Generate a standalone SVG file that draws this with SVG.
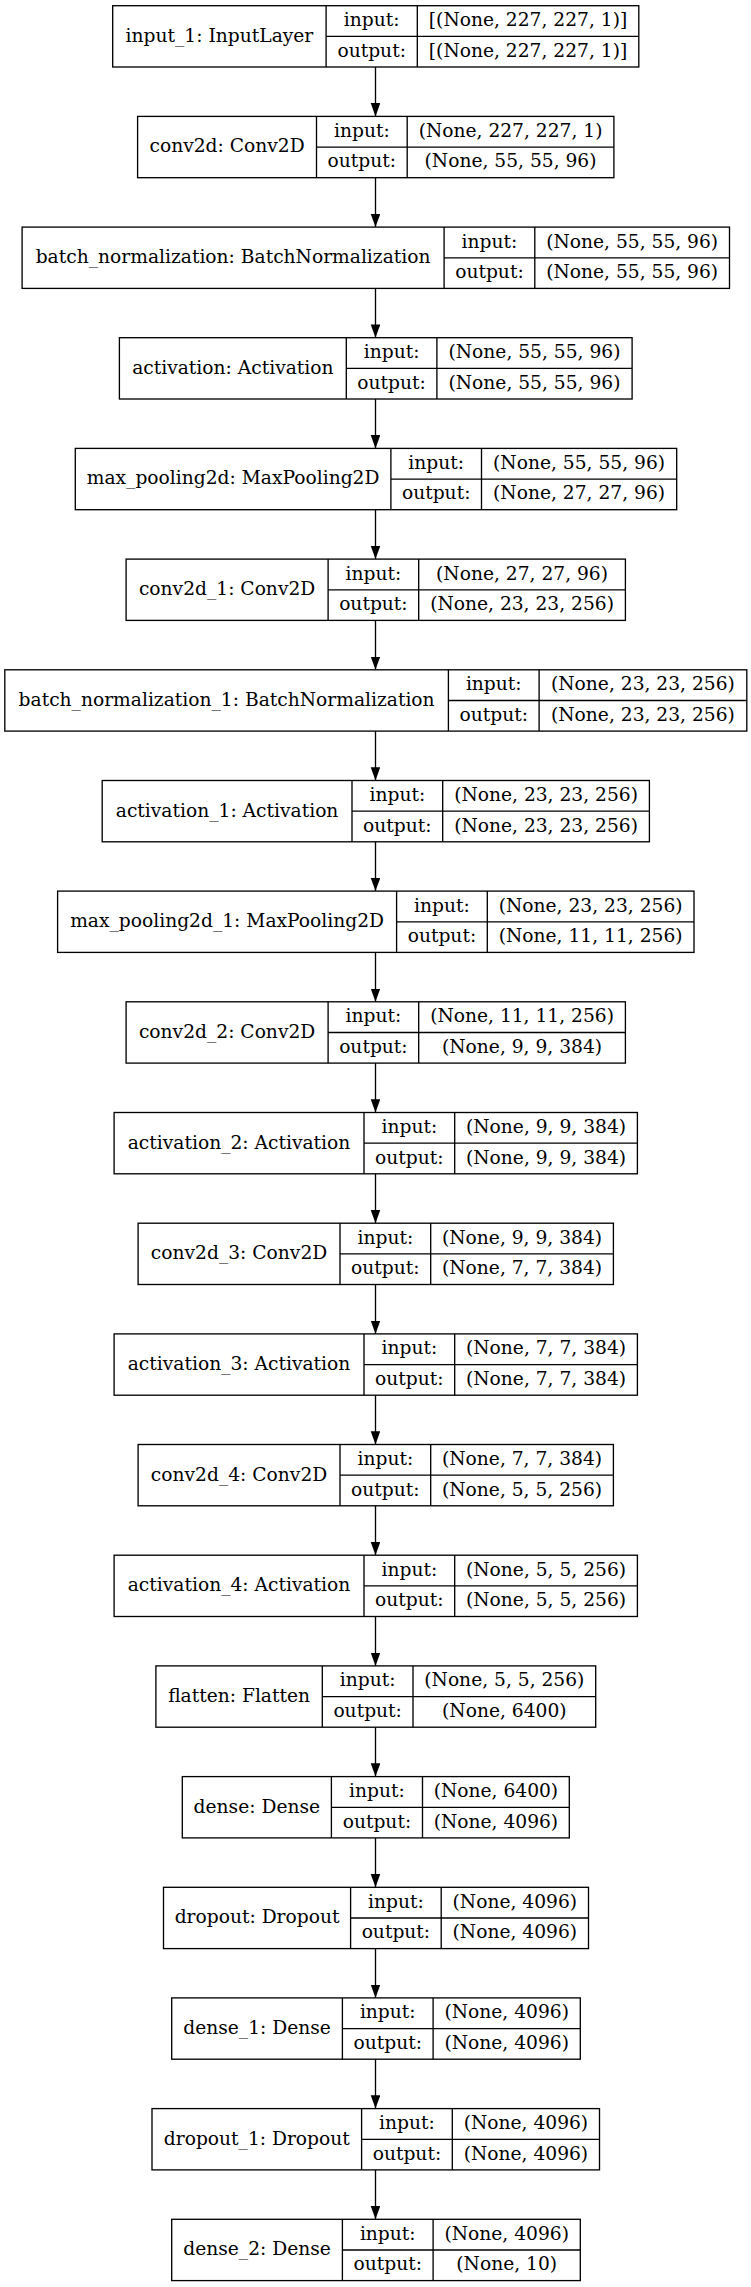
<svg xmlns="http://www.w3.org/2000/svg" width="751" height="2287" viewBox="0 0 751 2287">
<style>
.box{fill:#fff;stroke:#000;stroke-width:1.33}
.sep{fill:none;stroke:#000;stroke-width:1.33}
text{font-family:"DejaVu Serif","Liberation Serif",serif;font-size:18.67px;fill:#000;text-anchor:middle}
.edge{stroke:#000;stroke-width:1.33;fill:none;marker-end:url(#ah)}
</style>
<defs>
<marker id="ah" markerUnits="userSpaceOnUse" markerWidth="14" markerHeight="10" refX="13.3" refY="4.8" orient="auto">
<path d="M0,0 L13.3,4.8 L0,9.6 z" fill="#000"/>
</marker>
</defs>
<rect width="751" height="2287" fill="#fff"/>
<g id="connectors">
<line class="edge" x1="375.5" y1="67.0" x2="375.5" y2="116.4"/>
<line class="edge" x1="375.5" y1="177.7" x2="375.5" y2="227.1"/>
<line class="edge" x1="375.5" y1="288.4" x2="375.5" y2="337.7"/>
<line class="edge" x1="375.5" y1="399.0" x2="375.5" y2="448.4"/>
<line class="edge" x1="375.5" y1="509.7" x2="375.5" y2="559.1"/>
<line class="edge" x1="375.5" y1="620.4" x2="375.5" y2="669.8"/>
<line class="edge" x1="375.5" y1="731.1" x2="375.5" y2="780.5"/>
<line class="edge" x1="375.5" y1="841.8" x2="375.5" y2="891.1"/>
<line class="edge" x1="375.5" y1="952.4" x2="375.5" y2="1001.8"/>
<line class="edge" x1="375.5" y1="1063.1" x2="375.5" y2="1112.5"/>
<line class="edge" x1="375.5" y1="1173.8" x2="375.5" y2="1223.2"/>
<line class="edge" x1="375.5" y1="1284.5" x2="375.5" y2="1333.9"/>
<line class="edge" x1="375.5" y1="1395.2" x2="375.5" y2="1444.5"/>
<line class="edge" x1="375.5" y1="1505.8" x2="375.5" y2="1555.2"/>
<line class="edge" x1="375.5" y1="1616.5" x2="375.5" y2="1665.9"/>
<line class="edge" x1="375.5" y1="1727.2" x2="375.5" y2="1776.6"/>
<line class="edge" x1="375.5" y1="1837.9" x2="375.5" y2="1887.3"/>
<line class="edge" x1="375.5" y1="1948.6" x2="375.5" y2="1997.9"/>
<line class="edge" x1="375.5" y1="2059.2" x2="375.5" y2="2108.6"/>
<line class="edge" x1="375.5" y1="2169.9" x2="375.5" y2="2219.3"/>
</g>
<g id="input_1" transform="translate(0,5.7)">
<rect class="box" x="112.7" y="0" width="526.1" height="61.3"/>
<path class="sep" d="M326.1,0V61.3M417.3,0V61.3M326.1,30.7H638.8"/>
<text x="219.4" y="36">input_1: InputLayer</text>
<text x="371.7" y="20.5">input:</text><text x="371.7" y="51">output:</text>
<text x="528.05" y="20.5">[(None, 227, 227, 1)]</text><text x="528.05" y="51">[(None, 227, 227, 1)]</text>
</g>
<g id="conv2d" transform="translate(0,116.4)">
<rect class="box" x="137.6" y="0" width="476.3" height="61.3"/>
<path class="sep" d="M316.5,0V61.3M407.2,0V61.3M316.5,30.7H613.9"/>
<text x="227.05" y="36">conv2d: Conv2D</text>
<text x="361.85" y="20.5">input:</text><text x="361.85" y="51">output:</text>
<text x="510.55" y="20.5">(None, 227, 227, 1)</text><text x="510.55" y="51">(None, 55, 55, 96)</text>
</g>
<g id="batch_normalization" transform="translate(0,227.1)">
<rect class="box" x="22.1" y="0" width="707.4" height="61.3"/>
<path class="sep" d="M444.1,0V61.3M534.8,0V61.3M444.1,30.7H729.5"/>
<text x="233.1" y="36">batch_normalization: BatchNormalization</text>
<text x="489.45" y="20.5">input:</text><text x="489.45" y="51">output:</text>
<text x="632.15" y="20.5">(None, 55, 55, 96)</text><text x="632.15" y="51">(None, 55, 55, 96)</text>
</g>
<g id="activation" transform="translate(0,337.7)">
<rect class="box" x="119.4" y="0" width="512.7" height="61.3"/>
<path class="sep" d="M346.3,0V61.3M436.9,0V61.3M346.3,30.7H632.1"/>
<text x="232.85" y="36">activation: Activation</text>
<text x="391.6" y="20.5">input:</text><text x="391.6" y="51">output:</text>
<text x="534.5" y="20.5">(None, 55, 55, 96)</text><text x="534.5" y="51">(None, 55, 55, 96)</text>
</g>
<g id="max_pooling2d" transform="translate(0,448.4)">
<rect class="box" x="75.3" y="0" width="601.4" height="61.3"/>
<path class="sep" d="M390.9,0V61.3M481.5,0V61.3M390.9,30.7H676.7"/>
<text x="233.1" y="36">max_pooling2d: MaxPooling2D</text>
<text x="436.2" y="20.5">input:</text><text x="436.2" y="51">output:</text>
<text x="579.1" y="20.5">(None, 55, 55, 96)</text><text x="579.1" y="51">(None, 27, 27, 96)</text>
</g>
<g id="conv2d_1" transform="translate(0,559.1)">
<rect class="box" x="126.1" y="0" width="499.3" height="61.3"/>
<path class="sep" d="M328.1,0V61.3M418.7,0V61.3M328.1,30.7H625.4"/>
<text x="227.1" y="36">conv2d_1: Conv2D</text>
<text x="373.4" y="20.5">input:</text><text x="373.4" y="51">output:</text>
<text x="522.05" y="20.5">(None, 27, 27, 96)</text><text x="522.05" y="51">(None, 23, 23, 256)</text>
</g>
<g id="batch_normalization_1" transform="translate(0,669.8)">
<rect class="box" x="4.8" y="0" width="742" height="61.3"/>
<path class="sep" d="M448.4,0V61.3M539.1,0V61.3M448.4,30.7H746.8"/>
<text x="226.6" y="36">batch_normalization_1: BatchNormalization</text>
<text x="493.75" y="20.5">input:</text><text x="493.75" y="51">output:</text>
<text x="642.95" y="20.5">(None, 23, 23, 256)</text><text x="642.95" y="51">(None, 23, 23, 256)</text>
</g>
<g id="activation_1" transform="translate(0,780.5)">
<rect class="box" x="102.2" y="0" width="547.2" height="61.3"/>
<path class="sep" d="M352,0V61.3M442.7,0V61.3M352,30.7H649.4"/>
<text x="227.1" y="36">activation_1: Activation</text>
<text x="397.35" y="20.5">input:</text><text x="397.35" y="51">output:</text>
<text x="546.05" y="20.5">(None, 23, 23, 256)</text><text x="546.05" y="51">(None, 23, 23, 256)</text>
</g>
<g id="max_pooling2d_1" transform="translate(0,891.1)">
<rect class="box" x="57.6" y="0" width="636.4" height="61.3"/>
<path class="sep" d="M396.6,0V61.3M487.3,0V61.3M396.6,30.7H694"/>
<text x="227.1" y="36">max_pooling2d_1: MaxPooling2D</text>
<text x="441.95" y="20.5">input:</text><text x="441.95" y="51">output:</text>
<text x="590.65" y="20.5">(None, 23, 23, 256)</text><text x="590.65" y="51">(None, 11, 11, 256)</text>
</g>
<g id="conv2d_2" transform="translate(0,1001.8)">
<rect class="box" x="126.1" y="0" width="499.3" height="61.3"/>
<path class="sep" d="M328.1,0V61.3M418.7,0V61.3M328.1,30.7H625.4"/>
<text x="227.1" y="36">conv2d_2: Conv2D</text>
<text x="373.4" y="20.5">input:</text><text x="373.4" y="51">output:</text>
<text x="522.05" y="20.5">(None, 11, 11, 256)</text><text x="522.05" y="51">(None, 9, 9, 384)</text>
</g>
<g id="activation_2" transform="translate(0,1112.5)">
<rect class="box" x="114.1" y="0" width="523.3" height="61.3"/>
<path class="sep" d="M364,0V61.3M454.7,0V61.3M364,30.7H637.4"/>
<text x="239.05" y="36">activation_2: Activation</text>
<text x="409.35" y="20.5">input:</text><text x="409.35" y="51">output:</text>
<text x="546.05" y="20.5">(None, 9, 9, 384)</text><text x="546.05" y="51">(None, 9, 9, 384)</text>
</g>
<g id="conv2d_3" transform="translate(0,1223.2)">
<rect class="box" x="138.1" y="0" width="475.3" height="61.3"/>
<path class="sep" d="M340,0V61.3M430.7,0V61.3M340,30.7H613.4"/>
<text x="239.05" y="36">conv2d_3: Conv2D</text>
<text x="385.35" y="20.5">input:</text><text x="385.35" y="51">output:</text>
<text x="522.05" y="20.5">(None, 9, 9, 384)</text><text x="522.05" y="51">(None, 7, 7, 384)</text>
</g>
<g id="activation_3" transform="translate(0,1333.9)">
<rect class="box" x="114.1" y="0" width="523.3" height="61.3"/>
<path class="sep" d="M364,0V61.3M454.7,0V61.3M364,30.7H637.4"/>
<text x="239.05" y="36">activation_3: Activation</text>
<text x="409.35" y="20.5">input:</text><text x="409.35" y="51">output:</text>
<text x="546.05" y="20.5">(None, 7, 7, 384)</text><text x="546.05" y="51">(None, 7, 7, 384)</text>
</g>
<g id="conv2d_4" transform="translate(0,1444.5)">
<rect class="box" x="138.1" y="0" width="475.3" height="61.3"/>
<path class="sep" d="M340,0V61.3M430.7,0V61.3M340,30.7H613.4"/>
<text x="239.05" y="36">conv2d_4: Conv2D</text>
<text x="385.35" y="20.5">input:</text><text x="385.35" y="51">output:</text>
<text x="522.05" y="20.5">(None, 7, 7, 384)</text><text x="522.05" y="51">(None, 5, 5, 256)</text>
</g>
<g id="activation_4" transform="translate(0,1555.2)">
<rect class="box" x="114.1" y="0" width="523.3" height="61.3"/>
<path class="sep" d="M364,0V61.3M454.7,0V61.3M364,30.7H637.4"/>
<text x="239.05" y="36">activation_4: Activation</text>
<text x="409.35" y="20.5">input:</text><text x="409.35" y="51">output:</text>
<text x="546.05" y="20.5">(None, 5, 5, 256)</text><text x="546.05" y="51">(None, 5, 5, 256)</text>
</g>
<g id="flatten" transform="translate(0,1665.9)">
<rect class="box" x="155.9" y="0" width="439.8" height="61.3"/>
<path class="sep" d="M322.3,0V61.3M413,0V61.3M322.3,30.7H595.7"/>
<text x="239.1" y="36">flatten: Flatten</text>
<text x="367.65" y="20.5">input:</text><text x="367.65" y="51">output:</text>
<text x="504.35" y="20.5">(None, 5, 5, 256)</text><text x="504.35" y="51">(None, 6400)</text>
</g>
<g id="dense" transform="translate(0,1776.6)">
<rect class="box" x="182.3" y="0" width="387" height="61.3"/>
<path class="sep" d="M331.4,0V61.3M422.5,0V61.3M331.4,30.7H569.3"/>
<text x="256.85" y="36">dense: Dense</text>
<text x="376.95" y="20.5">input:</text><text x="376.95" y="51">output:</text>
<text x="495.9" y="20.5">(None, 6400)</text><text x="495.9" y="51">(None, 4096)</text>
</g>
<g id="dropout" transform="translate(0,1887.3)">
<rect class="box" x="163.5" y="0" width="425" height="61.3"/>
<path class="sep" d="M350.6,0V61.3M441.2,0V61.3M350.6,30.7H588.5"/>
<text x="257.05" y="36">dropout: Dropout</text>
<text x="395.9" y="20.5">input:</text><text x="395.9" y="51">output:</text>
<text x="514.85" y="20.5">(None, 4096)</text><text x="514.85" y="51">(None, 4096)</text>
</g>
<g id="dense_1" transform="translate(0,1997.9)">
<rect class="box" x="171.7" y="0" width="408.6" height="61.3"/>
<path class="sep" d="M342.4,0V61.3M433.1,0V61.3M342.4,30.7H580.3"/>
<text x="257.05" y="36">dense_1: Dense</text>
<text x="387.75" y="20.5">input:</text><text x="387.75" y="51">output:</text>
<text x="506.7" y="20.5">(None, 4096)</text><text x="506.7" y="51">(None, 4096)</text>
</g>
<g id="dropout_1" transform="translate(0,2108.6)">
<rect class="box" x="152" y="0" width="447.5" height="61.3"/>
<path class="sep" d="M361.6,0V61.3M452.3,0V61.3M361.6,30.7H599.5"/>
<text x="256.8" y="36">dropout_1: Dropout</text>
<text x="406.95" y="20.5">input:</text><text x="406.95" y="51">output:</text>
<text x="525.9" y="20.5">(None, 4096)</text><text x="525.9" y="51">(None, 4096)</text>
</g>
<g id="dense_2" transform="translate(0,2219.3)">
<rect class="box" x="171.7" y="0" width="408.6" height="61.3"/>
<path class="sep" d="M342.4,0V61.3M433.1,0V61.3M342.4,30.7H580.3"/>
<text x="257.05" y="36">dense_2: Dense</text>
<text x="387.75" y="20.5">input:</text><text x="387.75" y="51">output:</text>
<text x="506.7" y="20.5">(None, 4096)</text><text x="506.7" y="51">(None, 10)</text>
</g>
</svg>
